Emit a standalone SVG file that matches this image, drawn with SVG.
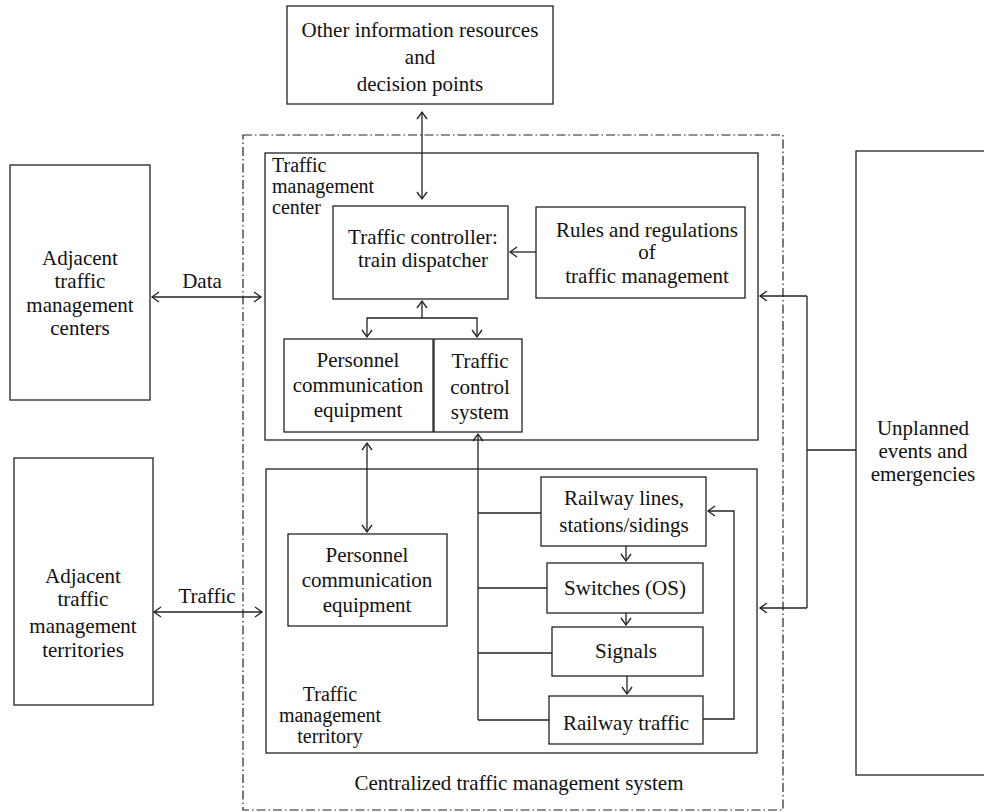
<svg xmlns="http://www.w3.org/2000/svg" width="984" height="812" viewBox="0 0 984 812">
<style>
.b{fill:#fff;stroke:#222;stroke-width:1.3}
.t{font-family:"Liberation Serif","Times New Roman",serif;font-size:21px;fill:#111;text-anchor:middle}
.l{text-anchor:start}
.s{font-size:20px}
.c{fill:none;stroke:#222;stroke-width:1.3}
.dd{fill:none;stroke:#222;stroke-width:1.2;stroke-dasharray:9 3 1.5 3}
</style>
<defs>
<marker id="a" markerUnits="userSpaceOnUse" markerWidth="12" markerHeight="12" refX="8" refY="6" orient="auto-start-reverse" viewBox="0 0 12 12">
<path d="M1,1 L8,6 L1,11" fill="none" stroke="#222" stroke-width="1.3"/>
</marker>
</defs>

<g id="system">
<rect x="243" y="135" width="540" height="675" class="dd"/>
<text class="t" x="519" y="790">Centralized traffic management system</text>
</g>

<g id="other-info">
<rect class="b" x="287" y="6" width="266" height="98"/>
<text class="t" x="420" y="37">Other information resources</text>
<text class="t" x="420" y="64">and</text>
<text class="t" x="420" y="91">decision points</text>
</g>

<g id="adj-centers">
<rect class="b" x="10" y="165" width="140" height="235"/>
<text class="t" x="80" y="265">Adjacent</text>
<text class="t" x="80" y="288">traffic</text>
<text class="t" x="80" y="312">management</text>
<text class="t" x="80" y="335">centers</text>
</g>

<g id="adj-territories">
<rect class="b" x="14" y="458" width="139" height="247"/>
<text class="t" x="83" y="583">Adjacent</text>
<text class="t" x="83" y="606">traffic</text>
<text class="t" x="83" y="633">management</text>
<text class="t" x="83" y="657">territories</text>
</g>

<g id="unplanned">
<rect class="b" x="856" y="151" width="140" height="624"/>
<text class="t" x="923" y="435">Unplanned</text>
<text class="t" x="923" y="458">events and</text>
<text class="t" x="923" y="481">emergencies</text>
</g>

<g id="tmc">
<rect class="b" x="265" y="153" width="493" height="287"/>
<text class="t l s" x="272" y="172">Traffic</text>
<text class="t l s" x="272" y="193">management</text>
<text class="t l s" x="272" y="214">center</text>
</g>

<g id="controller">
<rect class="b" x="333" y="206" width="175" height="93"/>
<text class="t" x="423" y="244">Traffic controller:</text>
<text class="t" x="423" y="267">train dispatcher</text>
</g>

<g id="rules">
<rect class="b" x="536" y="207" width="209" height="91"/>
<text class="t" x="647" y="237">Rules and regulations</text>
<text class="t" x="647" y="259">of</text>
<text class="t" x="647" y="283">traffic management</text>
</g>

<g id="pce-center">
<rect class="b" x="284" y="339" width="149" height="93"/>
<text class="t" x="358" y="367">Personnel</text>
<text class="t" x="358" y="392">communication</text>
<text class="t" x="358" y="417">equipment</text>
</g>

<g id="tcs">
<rect class="b" x="434" y="339" width="88" height="93"/>
<text class="t" x="480" y="368">Traffic</text>
<text class="t" x="480" y="394">control</text>
<text class="t" x="480" y="419">system</text>
</g>

<g id="territory">
<rect class="b" x="266" y="469" width="491" height="284"/>
<text class="t s" x="330" y="701">Traffic</text>
<text class="t s" x="330" y="722">management</text>
<text class="t s" x="330" y="743">territory</text>
</g>

<g id="pce-territory">
<rect class="b" x="288" y="534" width="159" height="92"/>
<text class="t" x="367" y="562">Personnel</text>
<text class="t" x="367" y="587">communication</text>
<text class="t" x="367" y="612">equipment</text>
</g>

<g id="railway-lines">
<rect class="b" x="541" y="477" width="165" height="69"/>
<text class="t" x="624" y="505">Railway lines,</text>
<text class="t" x="624" y="532">stations/sidings</text>
</g>

<g id="switches">
<rect class="b" x="547" y="563" width="156" height="50"/>
<text class="t" x="625" y="595">Switches (OS)</text>
</g>

<g id="signals">
<rect class="b" x="552" y="627" width="151" height="49"/>
<text class="t" x="626" y="658">Signals</text>
</g>

<g id="railway-traffic">
<rect class="b" x="549" y="696" width="154" height="48"/>
<text class="t" x="626" y="730">Railway traffic</text>
</g>

<g id="connectors">
<path class="c" d="M422,112 V199" marker-start="url(#a)" marker-end="url(#a)"/>
<path class="c" d="M152,297 H261" marker-start="url(#a)" marker-end="url(#a)"/>
<text class="t" x="202" y="288">Data</text>
<path class="c" d="M154,612 H262" marker-start="url(#a)" marker-end="url(#a)"/>
<text class="t" x="207" y="603">Traffic</text>
<path class="c" d="M536,252 H510" marker-end="url(#a)"/>
<path class="c" d="M422,318 V301" marker-end="url(#a)"/>
<path class="c" d="M367,337 V318 H477 V337" marker-start="url(#a)" marker-end="url(#a)"/>
<path class="c" d="M367,443 V532" marker-start="url(#a)" marker-end="url(#a)"/>
<path class="c" d="M478,720 V434" marker-end="url(#a)"/>
<path class="c" d="M478,513 H541 M478,588 H547 M478,653 H552 M478,720 H549"/>
<path class="c" d="M626,546 V561" marker-end="url(#a)"/>
<path class="c" d="M626,613 V625" marker-end="url(#a)"/>
<path class="c" d="M627,676 V694" marker-end="url(#a)"/>
<path class="c" d="M703,719 H734 V511 H708" marker-end="url(#a)"/>
<path class="c" d="M856,450 H807 M807,296 V608"/>
<path class="c" d="M807,296 H760" marker-end="url(#a)"/>
<path class="c" d="M807,608 H760" marker-end="url(#a)"/>
</g>
</svg>
